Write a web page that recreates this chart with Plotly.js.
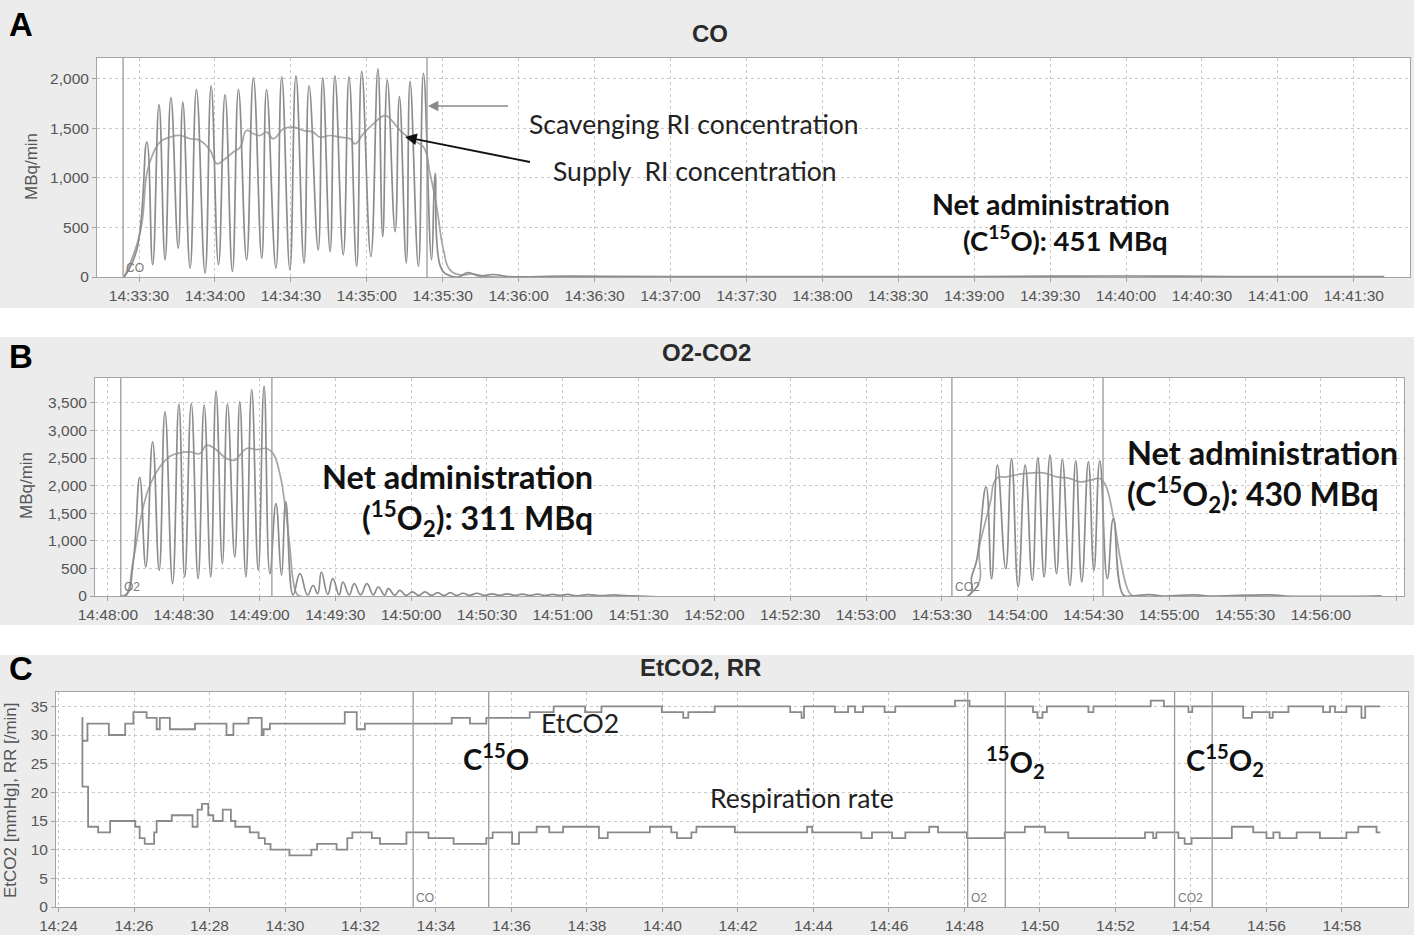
<!DOCTYPE html>
<html>
<head>
<meta charset="utf-8">
<script src="https://cdn.plot.ly/plotly-3.0.1.min.js"></script>
<style>
  html, body { margin: 0; padding: 0; background: #fff; }
  #chart { width: 1418px; height: 939px; }
</style>
</head>
<body>
<div id="chart"></div>
<script>
const DAY = "2018-05-10 ";
const W = 1418;
const H = 939;

// start / end of each inhalation
const coMarks = ["14:33:23.7", "14:35:23.8"];
const o2Marks = ["14:48:05.1", "14:49:04.9"];
const co2Marks = ["14:53:34.0", "14:54:33.8"];

/* ---------- Panel A: CO ---------- */
const coWaveTime = [
  "14:33:24.1", "14:33:29.1", "14:33:33.1", "14:33:35.4", "14:33:37.9", "14:33:40.3",
  "14:33:42.6", "14:33:45.5", "14:33:47.3", "14:33:50.2", "14:33:52.7", "14:33:56.1",
  "14:33:58.5", "14:34:01.4", "14:34:04.0", "14:34:06.9", "14:34:09.3", "14:34:12.5",
  "14:34:15.2", "14:34:18.5", "14:34:20.4", "14:34:24.1", "14:34:26.4", "14:34:29.6",
  "14:34:32.0", "14:34:35.2", "14:34:37.2", "14:34:40.8", "14:34:42.6", "14:34:45.5",
  "14:34:47.4", "14:34:50.7", "14:34:53.0", "14:34:56.0", "14:34:58.0", "14:35:01.6",
  "14:35:04.4", "14:35:06.3", "14:35:08.1", "14:35:11.2", "14:35:12.9", "14:35:15.6",
  "14:35:17.1", "14:35:20.4", "14:35:22.4", "14:35:25.6", "14:35:27.0", "14:35:29.2",
  "14:35:32.2", "14:35:36", "14:35:40", "14:35:44", "14:35:50", "14:35:56",
  "14:36:20", "14:37:00", "14:38:00", "14:39:00", "14:40:00", "14:40:40", "14:41:42"
];
const coWaveValue = [
  0, 274, 1362, 124, 1740, 174,
  1810, 290, 1765, 90, 1890, 40,
  1930, 124, 1840, 57, 1890, 174,
  2010, 190, 1890, 90, 2020, 74,
  2030, 140, 1930, 274, 2010, 257,
  2030, 224, 2020, 107, 2075, 207,
  2100, 408, 1990, 458, 1820, 140,
  1975, 107, 2055, 174, 1045, 100,
  20, 0, 45, 10, 25, 5,
  8, 5, 5, 5, 10, 5, 5
];
const coMeanTime = [
  "14:33:24.1", "14:33:30.4", "14:33:33.1", "14:33:35.0", "14:33:38.3", "14:33:42.3",
  "14:33:46.2", "14:33:50.2", "14:33:54.1", "14:33:58.1", "14:34:00.7", "14:34:03.3",
  "14:34:07.3", "14:34:10.0", "14:34:12.5", "14:34:15.2", "14:34:17.8", "14:34:20.4",
  "14:34:23.1", "14:34:27.1", "14:34:30.9", "14:34:34.9", "14:34:38.8", "14:34:41.5",
  "14:34:45.5", "14:34:49.4", "14:34:53.4", "14:34:55.4", "14:34:58.6", "14:35:02.6",
  "14:35:07.2", "14:35:09.9", "14:35:13.2", "14:35:18.4", "14:35:22.4", "14:35:25.0",
  "14:35:27.6", "14:35:30.3", "14:35:32.8", "14:35:36.8", "14:35:42", "14:35:48", "14:41:42"
];
const coMeanValue = [
  0, 443, 1045, 1211, 1362, 1411,
  1428, 1395, 1378, 1278, 1144, 1178,
  1261, 1311, 1478, 1445, 1428, 1462,
  1395, 1495, 1512, 1478, 1462, 1411,
  1428, 1411, 1395, 1344, 1445, 1545,
  1629, 1579, 1478, 1378, 1311, 1045,
  709, 274, 74, 23, 30, 5, 0
];

/* ---------- Panel B: O2 / CO2 ---------- */
const o2WaveTime = [
  "14:48:05.0", "14:48:07.4", "14:48:10.0", "14:48:12.6", "14:48:15.0", "14:48:17.7",
  "14:48:20.3", "14:48:22.6", "14:48:25.6", "14:48:28.1", "14:48:30.4", "14:48:33.0",
  "14:48:35.7", "14:48:38.1", "14:48:40.7", "14:48:42.8", "14:48:45.3", "14:48:47.3",
  "14:48:50.2", "14:48:52.2", "14:48:54.6", "14:48:56.9", "14:48:59.5", "14:49:01.8",
  "14:49:04.1", "14:49:06.5", "14:49:08.7", "14:49:10.4", "14:49:13.3", "14:49:16.0",
  "14:49:19.0", "14:49:21.2", "14:49:23.0", "14:49:24.5", "14:49:27.0", "14:49:29.0",
  "14:49:31.5", "14:49:33.0", "14:49:35.5", "14:49:37.5", "14:49:40.0", "14:49:42.5",
  "14:49:45.0", "14:49:47.0", "14:49:49.5", "14:49:51.0", "14:49:53.5", "14:49:55.5",
  "14:49:58.0", "14:50:00.5", "14:50:03.0", "14:50:05.5", "14:50:08.0", "14:50:10.5",
  "14:50:13.0", "14:50:15.5", "14:50:18.0", "14:50:20.5", "14:50:23.0", "14:50:26.0",
  "14:50:29.0", "14:50:32.0", "14:50:35.0", "14:50:38.0", "14:50:41.0", "14:50:44.0",
  "14:50:47.0", "14:50:50.0", "14:50:53.0", "14:50:56.0", "14:50:59.0", "14:51:02.0",
  "14:51:05.0", "14:51:10.0", "14:51:15.0", "14:51:20.0", "14:51:25.0", "14:51:30.0",
  "14:53:40.5", "14:53:41.8", "14:53:43.8", "14:53:47.5", "14:53:49.7", "14:53:52.0",
  "14:53:55.3", "14:53:57.6", "14:54:00.2", "14:54:03.0", "14:54:05.8", "14:54:08.0",
  "14:54:10.5", "14:54:12.8", "14:54:15.4", "14:54:17.7", "14:54:20.7", "14:54:23.0",
  "14:54:25.4", "14:54:28.0", "14:54:30.2", "14:54:32.5", "14:54:35.5", "14:54:37.9",
  "14:54:41.8", "14:54:44.5", "14:54:52", "14:54:58", "14:55:10", "14:55:16",
  "14:55:40", "14:55:46", "14:56:24"
];
const o2WaveValue = [
  0, 20, 600, 2150, 526, 2793,
  466, 3337, 224, 3476, 345, 3488,
  315, 3458, 345, 3712, 586, 3476,
  707, 3518, 345, 3742, 466, 3802,
  405, 1675, 375, 1705, 20, 405,
  20, 190, 40, 435, 30, 314,
  20, 254, 20, 224, 20, 224,
  20, 163, 15, 133, 15, 103,
  10, 73, 10, 73, 10, 60,
  10, 60, 10, 50, 10, 50,
  10, 40, 10, 40, 10, 35,
  10, 35, 10, 30, 10, 30,
  5, 25, 5, 20, 5, 0,
  0, 345, 647, 1977, 314, 2370,
  496, 2491, 163, 2370, 284, 2509,
  345, 2552, 405, 2473, 193, 2449,
  254, 2431, 466, 2449, 314, 1403,
  20, 0, 25, 0, 20, 0,
  20, 0, 0
];
const o2MeanTime = [
  "14:48:05.0", "14:48:07.4", "14:48:10.0", "14:48:14.0", "14:48:16.6", "14:48:20.6",
  "14:48:24.6", "14:48:28.5", "14:48:32.4", "14:48:36.4", "14:48:39.1", "14:48:43.1",
  "14:48:46.9", "14:48:50.2", "14:48:52.2", "14:48:54.9", "14:48:58.9", "14:49:02.9",
  "14:49:05.4", "14:49:08.0", "14:49:10.0", "14:49:12.0", "14:49:13.3", "14:49:14.7",
  "14:49:16.0", "14:53:40.5", "14:53:45.1", "14:53:49.1", "14:53:51.6", "14:53:55.6",
  "14:54:00.9", "14:54:06.2", "14:54:10.2", "14:54:15.4", "14:54:20.8", "14:54:24.7",
  "14:54:28.7", "14:54:32.5", "14:54:34.5", "14:54:37.9", "14:54:40.5", "14:54:43.2",
  "14:54:44.5", "14:54:46.0", "14:56:24"
];
const o2MeanValue = [
  0, 40, 647, 1614, 2007, 2340,
  2533, 2594, 2612, 2582, 2733, 2642,
  2491, 2461, 2551, 2673, 2654, 2673,
  2582, 2219, 1675, 889, 284, 42,
  0, 0, 949, 1675, 2128, 2159,
  2207, 2231, 2231, 2159, 2128, 2068,
  2098, 2128, 2038, 1433, 707, 163,
  42, 0, 0
];

/* ---------- Panel C: EtCO2, RR ---------- */
const etco2Time = [
  "14:24:38", "14:24:46", "14:25:20", "14:25:46", "14:25:59", "14:26:20", "14:26:36",
  "14:26:41", "14:26:57", "14:27:37", "14:28:27", "14:28:38", "14:29:02", "14:29:23",
  "14:29:26", "14:29:36", "14:31:35", "14:31:54", "14:32:07", "14:34:25", "14:34:54",
  "14:35:20", "14:36:29", "14:37:07", "14:37:57", "14:38:23", "14:39:59", "14:40:33",
  "14:40:41", "14:41:23", "14:43:23", "14:43:41", "14:43:45", "14:44:34", "14:44:55",
  "14:45:06", "14:45:19", "14:45:53", "14:46:10", "14:47:45", "14:48:08", "14:49:49",
  "14:49:56", "14:50:04", "14:50:11", "14:51:17", "14:51:25", "14:52:56", "14:53:17",
  "14:53:56", "14:54:02", "14:55:23", "14:55:37", "14:56:05", "14:56:10", "14:56:35",
  "14:57:30", "14:57:41", "14:57:49", "14:58:07", "14:58:31", "14:58:37", "14:59:01"
];
const etco2Value = [
  29, 32, 30, 32, 34, 33, 31,
  33, 31, 32, 30, 32, 33, 30,
  31, 32, 34, 31, 32, 33, 32,
  33, 34, 35, 34, 35, 34, 33,
  34, 35, 34, 33, 35, 34, 35,
  34, 35, 34, 35, 36, 35, 34,
  33, 34, 35, 34, 35, 36, 35,
  34, 35, 33, 34, 33, 34, 35,
  34, 35, 34, 35, 33, 35, 35
];
const rrTime = [
  "14:24:37", "14:24:38", "14:24:47", "14:25:03", "14:25:22", "14:26:02", "14:26:09",
  "14:26:17", "14:26:32", "14:26:36", "14:27:00", "14:27:33", "14:27:41", "14:27:48",
  "14:27:58", "14:28:06", "14:28:21", "14:28:34", "14:28:41", "14:29:04", "14:29:18",
  "14:29:28", "14:29:37", "14:30:07", "14:30:42", "14:30:51", "14:31:22", "14:31:39",
  "14:31:47", "14:32:18", "14:32:31", "14:33:13", "14:33:48", "14:34:28", "14:35:20",
  "14:35:30", "14:36:01", "14:36:12", "14:36:40", "14:37:00", "14:37:22", "14:38:19",
  "14:38:33", "14:39:40", "14:40:14", "14:40:23", "14:40:46", "14:40:54", "14:41:55",
  "14:43:50", "14:43:58", "14:45:16", "14:45:33", "14:46:05", "14:46:26", "14:47:04",
  "14:47:18", "14:48:04", "14:49:04", "14:49:36", "14:50:08", "14:50:45", "14:52:47",
  "14:53:00", "14:53:05", "14:53:40", "14:53:50", "14:54:01", "14:55:05", "14:55:39",
  "14:56:00", "14:56:11", "14:56:21", "14:56:48", "14:57:25", "14:58:07", "14:58:26",
  "14:58:55", "14:59:01"
];
const rrValue = [
  33, 21, 14, 13, 15, 14, 12,
  11, 13, 15, 16, 14, 17, 18,
  16, 15, 17, 15, 14, 13, 12,
  11, 10, 9, 10, 11, 10, 12,
  13, 12, 11, 13, 12, 11, 12,
  13, 11, 13, 14, 13, 14, 12,
  13, 14, 13, 12, 13, 14, 13,
  14, 13, 12, 13, 12, 13, 14,
  13, 12, 13, 14, 13, 12, 13,
  12, 13, 12, 11, 12, 14, 13,
  12, 13, 12, 13, 12, 13, 14,
  13, 13
];

/* ---------- Geometry (pixels of the page) ---------- */
const panels = {
  a: { left: 97, right: 1410, top: 58, bottom: 277, bandTop: 0, bandBottom: 308 },
  b: { left: 95, right: 1404, top: 378, bottom: 596, bandTop: 337, bandBottom: 625 },
  c: { left: 56, right: 1408, top: 692, bottom: 907, bandTop: 655, bandBottom: 935 },
};

const fx = (x) => x / W;
const fy = (y) => 1 - y / H;
const at = (t) => DAY + t;

const TICK_FONT = { family: "Liberation Sans, Arial, sans-serif", size: 15.5, color: "#555555" };
const GRID = "#c9c9c9";

function xAxis(p, range, dtick, fmt, tick0) {
  return {
    domain: [fx(p.left), fx(p.right)],
    type: "date",
    range: range.map(at),
    tick0: at(tick0),
    dtick: dtick,
    tickformat: fmt,
    showgrid: true,
    gridcolor: GRID,
    griddash: "dot",
    showline: true,
    mirror: true,
    linecolor: "#a3a3a3",
    ticks: "outside",
    ticklen: 4,
    tickcolor: "#a3a3a3",
    tickfont: TICK_FONT,
    zeroline: false,
  };
}

function yAxis(p, range, dtick, fmt) {
  return {
    domain: [fy(p.bottom), fy(p.top)],
    range: range,
    dtick: dtick,
    tickformat: fmt,
    showgrid: true,
    gridcolor: GRID,
    griddash: "dot",
    showline: true,
    mirror: true,
    linecolor: "#a3a3a3",
    ticks: "outside",
    ticklen: 4,
    tickcolor: "#a3a3a3",
    tickfont: TICK_FONT,
    zeroline: false,
  };
}

function waveTrace(times, values, xa, ya, color) {
  return {
    x: times.map(at),
    y: values,
    xaxis: xa,
    yaxis: ya,
    type: "scatter",
    mode: "lines",
    line: { color: color, width: 1.7, shape: "spline", smoothing: 1.3 },
    hoverinfo: "skip",
  };
}

function stepTrace(times, values) {
  return {
    x: times.map(at),
    y: values,
    xaxis: "x3",
    yaxis: "y3",
    type: "scatter",
    mode: "lines",
    line: { color: "#8a8a8a", width: 1.8, shape: "hv" },
    hoverinfo: "skip",
  };
}

const traces = [
  waveTrace(coMeanTime, coMeanValue, "x", "y", "#a6a6a6"),
  waveTrace(coWaveTime, coWaveValue, "x", "y", "#8c8c8c"),
  waveTrace(o2MeanTime, o2MeanValue, "x2", "y2", "#a6a6a6"),
  waveTrace(o2WaveTime, o2WaveValue, "x2", "y2", "#8c8c8c"),
  stepTrace(etco2Time, etco2Value),
  stepTrace(rrTime, rrValue),
];

/* ---------- Backgrounds and event lines ---------- */
const shapes = [];
Object.values(panels).forEach((p) => {
  shapes.push({
    type: "rect", xref: "paper", yref: "paper", layer: "below",
    x0: 0, x1: fx(1414), y0: fy(p.bandBottom), y1: fy(p.bandTop),
    fillcolor: "#ececec", line: { width: 0 },
  });
  shapes.push({
    type: "rect", xref: "paper", yref: "paper", layer: "below",
    x0: fx(p.left), x1: fx(p.right), y0: fy(p.bottom), y1: fy(p.top),
    fillcolor: "#ffffff", line: { width: 0 },
  });
});

function markLine(t, xa, ya) {
  return {
    type: "line", xref: xa, yref: ya + " domain", layer: "above",
    x0: at(t), x1: at(t), y0: 0, y1: 1,
    line: { color: "#9a9a9a", width: 1.3 },
  };
}
coMarks.forEach((t) => shapes.push(markLine(t, "x", "y")));
o2Marks.concat(co2Marks).forEach((t) => shapes.push(markLine(t, "x2", "y2")));
coMarks.concat(o2Marks, co2Marks).forEach((t) => shapes.push(markLine(t, "x3", "y3")));

/* ---------- Text ---------- */
const SANS = "Liberation Sans, Arial, sans-serif";
const LATO = "Lato, Carlito, Calibri, sans-serif";

function note(text, x, y, font, extra) {
  return Object.assign({
    text: text, xref: "paper", yref: "paper", x: fx(x), y: fy(y),
    xanchor: "left", yanchor: "middle", showarrow: false, font: font,
  }, extra || {});
}

function markLabel(text, t, xa, ya) {
  return {
    text: text, xref: xa, yref: ya + " domain", x: at(t), y: 0,
    xanchor: "left", yanchor: "bottom", xshift: 1, showarrow: false,
    font: { family: SANS, size: 12, color: "#7a7a7a" },
  };
}

const letterFont = { family: SANS, size: 33, color: "#000", weight: "bold" };
const titleFont = { family: SANS, size: 24, color: "#2a2a2a", weight: "bold" };
const yTitleFont = { family: SANS, size: 17, color: "#555555" };
const plainFont = { family: LATO, size: 26.5, color: "#222" };
const boldA = { family: LATO, size: 28.5, color: "#111", weight: "bold" };
const boldA2 = { family: LATO, size: 27.5, color: "#111", weight: "bold" };
const boldB = { family: LATO, size: 32.5, color: "#111", weight: "bold" };
const boldB2 = { family: LATO, size: 32, color: "#111", weight: "bold" };
const boldC = { family: LATO, size: 29, color: "#111", weight: "bold" };

const annotations = [
  note("A", 7, 24, letterFont),
  note("B", 7, 356, letterFont),
  note("C", 7, 668, letterFont),

  note("CO", 710, 33, titleFont, { xanchor: "center" }),
  note("O2-CO2", 706, 352, titleFont, { xanchor: "center" }),
  note("EtCO2, RR", 700, 667, titleFont, { xanchor: "center" }),

  note("MBq/min", 31, 167, yTitleFont, { xanchor: "center", textangle: -90 }),
  note("MBq/min", 27, 486, yTitleFont, { xanchor: "center", textangle: -90 }),
  note("EtCO2 [mmHg], RR [/min]", 10, 800, yTitleFont, { xanchor: "center", textangle: -90 }),

  // panel A call-outs
  note("", 428, 106, plainFont, {
    showarrow: true, ax: 80, ay: 0, arrowhead: 2, arrowsize: 1.3,
    arrowwidth: 1.6, arrowcolor: "#8a8a8a",
  }),
  note("", 405, 137, plainFont, {
    showarrow: true, ax: 125, ay: 25, arrowhead: 2, arrowsize: 1.3,
    arrowwidth: 1.8, arrowcolor: "#111",
  }),
  note("Scavenging RI concentration", 527, 124, plainFont),
  note("Supply\u00a0 RI concentration", 551, 171, plainFont),
  note("Net administration", 1172, 204, boldA, { xanchor: "right" }),
  note("(C<sup>15</sup>O): 451 MBq", 1170, 238, boldA2, { xanchor: "right" }),

  // panel B call-outs
  note("Net administration", 595, 476, boldB, { xanchor: "right" }),
  note("(<sup>15</sup>O<sub>2</sub>): 311 MBq", 595, 518, boldB2, { xanchor: "right" }),
  note("Net administration", 1125, 452, boldB),
  note("(C<sup>15</sup>O<sub>2</sub>): 430 MBq", 1125, 495, boldB2),

  // panel C call-outs
  note("EtCO2", 539, 723, plainFont),
  note("Respiration rate", 708, 798, plainFont),
  note("C<sup>15</sup>O", 461, 757, boldC),
  note("<sup>15</sup>O<sub>2</sub>", 984, 762, boldC),
  note("C<sup>15</sup>O<sub>2</sub>", 1184, 760, boldC),

  markLabel("CO", coMarks[0], "x", "y"),
  markLabel("O2", o2Marks[0], "x2", "y2"),
  markLabel("CO2", co2Marks[0], "x2", "y2"),
  markLabel("CO", coMarks[0], "x3", "y3"),
  markLabel("O2", o2Marks[0], "x3", "y3"),
  markLabel("CO2", co2Marks[0], "x3", "y3"),
];

const layout = {
  width: W,
  height: H,
  margin: { l: 0, r: 0, t: 0, b: 0 },
  paper_bgcolor: "#ffffff",
  plot_bgcolor: "rgba(0,0,0,0)",
  showlegend: false,
  xaxis: Object.assign(
    xAxis(panels.a, ["14:33:13.4", "14:41:52.2"], 30000, "%H:%M:%S", "14:33:00"),
    { anchor: "y" }
  ),
  yaxis: Object.assign(yAxis(panels.a, [0, 2210], 500, ",d"), { anchor: "x" }),
  xaxis2: Object.assign(
    xAxis(panels.b, ["14:47:54.9", "14:56:32.9"], 30000, "%H:%M:%S", "14:48:00"),
    { anchor: "y2" }
  ),
  yaxis2: Object.assign(yAxis(panels.b, [0, 3950], 500, ",d"), { anchor: "x2" }),
  xaxis3: Object.assign(
    xAxis(panels.c, ["14:23:56", "14:59:45"], 120000, "%H:%M", "14:24:00"),
    { anchor: "y3" }
  ),
  yaxis3: Object.assign(yAxis(panels.c, [0, 37.5], 5, "d"), { anchor: "x3" }),
  shapes: shapes,
  annotations: annotations,
};

Plotly.newPlot("chart", traces, layout, { staticPlot: true, displayModeBar: false });
</script>
</body>
</html>
